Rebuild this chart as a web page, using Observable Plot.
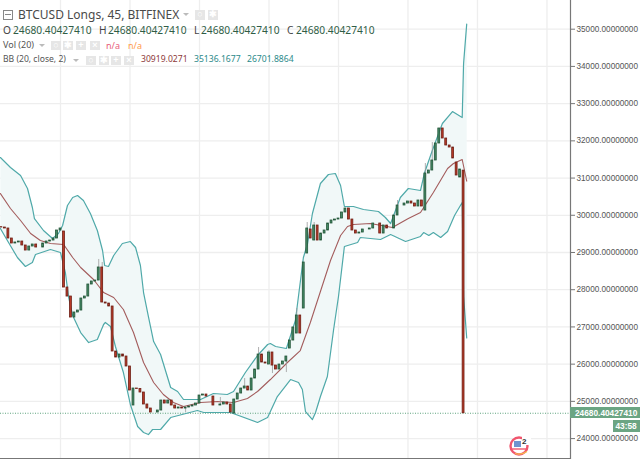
<!DOCTYPE html>
<html><head><meta charset="utf-8">
<script src="https://cdn.jsdelivr.net/npm/d3@7"></script>
<script src="https://cdn.jsdelivr.net/npm/@observablehq/plot@0.6"></script>
<style>
html,body{margin:0;padding:0;background:#fff;overflow:hidden}
#wrap{position:relative;width:640px;height:459px;font-family:"Noto Sans",sans-serif}
#wrap svg{display:block;overflow:visible}
.t{position:absolute;white-space:nowrap;line-height:1}
.b{position:absolute;background:#e6e6e6;width:10px;height:10px;color:#fff;font:bold 9px/9px "Liberation Sans";text-align:center}
.tri{position:absolute;width:0;height:0;border-left:3px solid transparent;border-right:3px solid transparent;border-top:3px solid #bbb}
</style></head><body><div id="wrap"></div>
<script>
const firstBar = 3;
const closes = [29671,29645,29376,29242,29269,29295,29188,29053,29161,29215,29134,29134,29242,29295,29322,29376,29591,29645,
28059,27817,27253,27388,27441,27764,27817,28140,28221,28247,28597,27656,27629,27549,26340,26178,26259,26205,25937,25292,
25345,25332,25238,24916,24808,24701,24701,24754,25023,24942,25023,24889,24808,24835,24808,24835,24862,24889,24942,25157,
25184,25130,25130,24889,24889,24916,24969,24916,24701,25050,25211,25345,25399,25292,25614,25856,26259,26044,26017,26313,
25963,25856,25990,26071,26205,26635,26985,27307,26823,28731,29645,29376,29725,29322,29510,29591,29779,29860,29886,29913,
30075,30182,29886,29591,29510,29537,29618,29618,29645,29779,29779,29510,29725,29645,29645,29994,30263,30263,30316,30370,
30316,30236,30397,30236,31122,31203,31472,31929,32332,32063,31875,31821,31526,31069,31230,24680];
const firstOpen = 29680;
const gapBars  = [21,41,70,80,86,88,90,91,92,93,125,134,135,136];
const gapOpens = [29564,24889,24673,25990,26420,26823,27495,28973,29618,29322,30128,31418,31015,31200];
const wickBars = [31,32,66,73,77,80,81,85,88,91,93,117,125,127,56];
const wickEnds = [28812,28731,25104,25614,26447,26366,25748,25775,27495,29806,29806,30397,31391,31955,24701];

const upperBars = [2.7,5.6,8.5,10.5,11.9,12.5,15.1,17.7,19.4,20.6,22,23.5,24.9,26.6,28.6,30.6,32.1,32.7,33.8,35.3,37.8,40.1,41.6,43,43.9,45.3,46.8,48.8,51.7,53.7,55.4,60.3,64,68,69.8,73.2,76.7,79.6,80.4,81.9,85,87.6,89.9,91.1,92.5,94.8,97.1,99.1,100.6,101.7,104.3,107.2,111.5,113.5,115,116.4,117.8,120.1,123.6,124.7,127,129.9,132.8,135.6,136,136.9];
const upperVals = [31552,31284,31069,30719,30209,29913,29591,29376,29510,29725,30263,30478,30531,30397,30048,29591,29054,28650,28624,28919,29242,29295,29134,28650,27925,27280,26608,26259,25372,25265,25050,25050,25211,25184,25265,25775,26232,26528,26554,26474,26420,27173,28865,29242,30048,30854,31096,31122,30800,30236,30236,30155,30101,29940,29779,30128,30478,30719,30666,31122,31741,32466,32788,32627,34078,35136];
const lowerBars = [2.7,4.2,7.6,9.9,11.9,12.8,17.1,20,21.4,22.3,23.5,25.8,28.1,30.6,32.4,32.9,34.4,35.8,38.1,40.1,42.2,43.9,45.3,46.5,48.8,51.7,59.4,61.2,68.9,76.7,79.6,82.4,86.2,88.5,89.6,90.5,92.5,93.4,94.8,96.8,98.6,100,101.7,105.5,106.3,112.1,115,119.3,123.6,124.5,126,127.3,129.4,131.4,133.4,135.6,136,136.9];
const lowerVals = [29645,29403,28865,28624,28731,28946,29080,29000,28462,27817,27307,26850,26581,26662,27065,27119,27011,26474,25775,24916,24324,24163,24109,24244,24244,24566,24754,24701,24701,24432,24566,25130,25587,25507,25319,24727,24512,24701,25130,25668,26931,27817,29161,29268,29403,29349,29483,29295,29430,29537,29457,29537,29403,29564,29994,30343,27817,26702];
const basisBars = [2.7,5.6,8.5,11.4,14.2,17.1,20.9,23.5,25.8,29.5,32.4,35.3,38.1,41,43.9,46.8,49.6,52.5,55.4,60.3,65.2,69.8,73.8,76.7,80.4,85.3,89,91.9,94.8,97.7,100.6,102.6,104.3,109.2,115.5,120.1,123.6,127.3,131.4,133.1,135.6,136.9];
const basisVals = [30585,30182,29860,29510,29322,29242,29215,28865,28597,28274,27925,27791,27468,26850,26044,25507,25184,24969,24862,24969,24996,24969,25077,25265,25587,26044,26366,27119,27952,28785,29457,29698,29752,29779,29672,29913,30075,30612,31257,31391,31499,30919];

const priceTicks = d3.range(24000,35001,1000);
const timeGrid = [20,40,60,80,100,120,140,160];
const lastPrice = 24680.40427410;

const pair = (xs,ys)=>xs.map((x,i)=>({x,y:ys[i]}));
const upper = pair(upperBars,upperVals), lower = pair(lowerBars,lowerVals), basis = pair(basisBars,basisVals);
const gap = new Map(gapBars.map((b,i)=>[b,gapOpens[i]]));
const candles = closes.map((c,i)=>{
  const bar = firstBar+i;
  const open = gap.has(bar)?gap.get(bar):(i?closes[i-1]:firstOpen);
  return {bar,open,close:c};
});
const byBar = new Map(candles.map(d=>[d.bar,d]));
const wicks = wickBars.map((b,i)=>({bar:b,end:wickEnds[i],from:(byBar.get(b).open+byBar.get(b).close)/2}));
const halfBody = 0.27;

const chart = Plot.plot({
  width:640,height:459,marginLeft:0,marginRight:70,marginTop:0,marginBottom:0,
  style:{background:"transparent"},
  x:{domain:[2.73,166.77],axis:null},
  y:{domain:[23438,35771]},
  marks:[
    Plot.ruleX(timeGrid,{stroke:"#eeeeee",strokeWidth:1.3}),
    Plot.ruleY(priceTicks,{stroke:"#eeeeee",strokeWidth:1.3}),
    Plot.line([...upper,...lower.slice().reverse()],{x:"x",y:"y",fill:"#f1f8f8",stroke:"none"}),
    Plot.ruleY([lastPrice],{stroke:"#4f9a72",strokeWidth:0.9,strokeDasharray:"1,1.5"}),
    Plot.line(upper,{x:"x",y:"y",stroke:"#4fa9a9",strokeWidth:1.2}),
    Plot.line(lower,{x:"x",y:"y",stroke:"#4fa9a9",strokeWidth:1.2}),
    Plot.line(basis,{x:"x",y:"y",stroke:"#a35c5c",strokeWidth:1.1}),
    Plot.ruleX(wicks,{x:"bar",y1:"from",y2:"end",stroke:"#9a9a9c",strokeWidth:0.8}),
    Plot.rect(candles,{x1:d=>d.bar-halfBody,x2:d=>d.bar+halfBody,y1:"open",y2:"close",
      fill:d=>d.close>=d.open?"#458a66":"#b93a28",
      stroke:d=>d.close>=d.open?"#225437":"#6d1e14",strokeWidth:0.8}),
    Plot.axisY(priceTicks,{anchor:"right",tickSize:4,tickPadding:2,stroke:"#777",
      tickFormat:d=>d.toFixed(8),fontSize:8.2,fill:"#555",fontFamily:"Liberation Sans",label:null}),
    Plot.ruleX([166.77],{stroke:"#777",strokeWidth:1.2}),
    Plot.ruleY([23465],{stroke:"#777",strokeWidth:1.2})
  ]
});
const wrap = document.getElementById("wrap");
wrap.appendChild(chart);

function text(s,x,y,size,color,extra){
  const e=document.createElement("div");e.className="t";e.textContent=s;
  e.style.cssText=`left:${x}px;top:${y}px;font-size:${size}px;color:${color};${extra||""}`;
  wrap.appendChild(e);return e;
}
function box(x,y,w,h,css,glyph){
  const e=document.createElement("div");e.className="b";
  if(glyph)e.textContent=glyph;
  e.style.cssText=`left:${x}px;top:${y}px;width:${w}px;height:${h}px;${css||""}`;
  wrap.appendChild(e);
}
function tri(x,y){const e=document.createElement("div");e.className="tri";e.style.cssText=`left:${x}px;top:${y}px`;wrap.appendChild(e);}

// legend block
box(3,10,8,8,"background:#fff;border:1px solid #888");
box(5,14,6,1,"background:#888");
text("BTCUSD Longs, 45, BITFINEX",18,8.5,12,"#4a4a4a");
tri(183,13);
[["○",195],["✱",208]].forEach(([g,x])=>box(x,10,10,10,"",g));
const G="#2f5d46";
[["O",3],["H",99],["L",194],["C",287]].forEach(([l,x])=>text(l,x,24.5,10.2,"#444"));
[13,108,201,296].forEach(x=>text("24680.40427410",x,24.5,10.2,G));
text("Vol (20)",3,40,9,"#555");tri(39,44);
[["○",51],["✱",63],["+",76],["×",90]].forEach(([g,x])=>box(x,41,10,9,"",g));
text("n/a",106,40.5,9,"#e8607a");
text("n/a",128,40.5,9,"#ff9a4d");
text("BB (20, close, 2)",3,55,8.6,"#555");tri(73,59);
[["○",86],["✱",99],["+",111],["×",124]].forEach(([g,x])=>box(x,55.5,10,9,"",g));
text("30919.0271",141,55,8.6,"#8e3a3a");
text("35136.1677",194,55,8.6,"#2b8a8a");
text("26701.8864",247,55,8.6,"#2b8a8a");

// last price tags
box(570,407,70,11,"background:#6ba583");
text("24680.40427410",575,408.6,8.3,"#fff","font-family:'Liberation Sans';font-weight:bold");
box(613,420,27,12,"background:#6ba583");
text("43:58",615.5,422.2,8.3,"#fff","font-family:'Liberation Sans';font-weight:bold");

// event flag
const f=document.createElement("div");
f.style.cssText="position:absolute;left:507px;top:435px;width:26px;height:24px";
f.innerHTML='<svg width="26" height="24" viewBox="0 0 26 24"><circle cx="12" cy="11" r="8.5" fill="#fff" stroke="#f0566e" stroke-width="2.4"/><path d="M5 14h14" stroke="#f0566e" stroke-width="1.4"/><path d="M8 18.5q6 2 12-2" stroke="#f5c04a" stroke-width="1.2" fill="none"/><rect x="7" y="6" width="7" height="6" fill="#6f94cf"/><rect x="15" y="1" width="9" height="9" fill="#fff"/><text x="15" y="9" font-size="8" font-family="Liberation Sans" font-weight="bold" fill="#333">2</text></svg>';
wrap.appendChild(f);
</script></body></html>
